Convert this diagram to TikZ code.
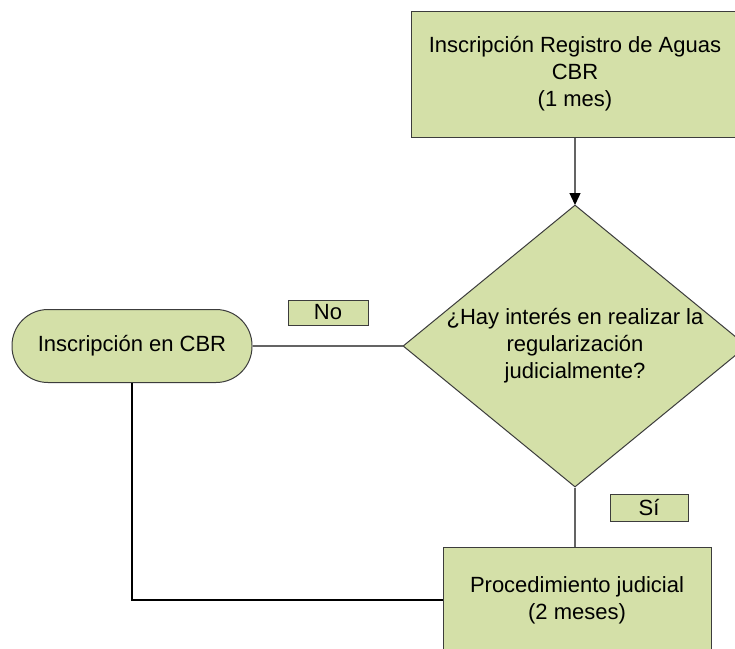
\documentclass[tikz,border=0pt]{standalone}
\usepackage{fontspec}
\setmainfont{Liberation Sans}
\usetikzlibrary{shapes.geometric,arrows.meta}
\definecolor{boxgreen}{RGB}{212,224,168}
\definecolor{edgegray}{RGB}{60,60,60}
\definecolor{conngray}{RGB}{100,100,100}
\begin{document}
\begin{tikzpicture}[x=1pt,y=1pt,
  every node/.style={font=\fontsize{22}{27}\selectfont},
  procbox/.style={rectangle,draw=edgegray,fill=boxgreen,line width=1pt,inner sep=0pt,align=center},
  decision/.style={diamond,draw=edgegray,fill=boxgreen,line width=1pt,inner sep=0pt,minimum width=344pt,minimum height=282pt},
  terminal/.style={rectangle,rounded corners=36pt,draw=edgegray,fill=boxgreen,line width=1pt,inner sep=0pt,minimum width=240pt,minimum height=73pt,align=center},
  tagbox/.style={rectangle,draw=edgegray,fill=boxgreen,line width=0.8pt,inner sep=0pt},
  conn/.style={draw=conngray,line width=1.3pt},
  arrowconn/.style={conn,-{Triangle[length=12pt,width=11pt,color=black]},shorten >=-0.5pt}
]
\useasboundingbox (0,0) rectangle (735,-648);
\clip (0,0) rectangle (735,-648);
\fill[white] (0,0) rectangle (735,-648);

\node[procbox,minimum width=328pt,minimum height=126pt] (top) at (575,-74) {Inscripción Registro de Aguas\\CBR\\(1 mes)};
\node[decision] (dec) at (575,-346) {};
\node[align=center] (dectext) at (575,-346) {¿Hay interés en realizar la\\regularización\\judicialmente?};
\node[terminal] (term) at (132,-346) {Inscripción en CBR};
\node[procbox,minimum width=268pt,minimum height=106pt] (proc) at (577,-600) {Procedimiento judicial\\(2 meses)};
\node[tagbox,minimum width=80pt,minimum height=25pt] (no) at (328,-312.5) {No};
\node[tagbox,minimum width=78pt,minimum height=27pt] (si) at (649,-507.5) {Sí};

\draw[arrowconn] (top.south) -- (dec.north);
\draw[conn] (dec.west) -- (term.east);
\draw[conn] (dec.south) -- (dec.south |- proc.north);
\draw[conn,draw=black] (term.south) |- (proc.west);
\end{tikzpicture}
\end{document}
